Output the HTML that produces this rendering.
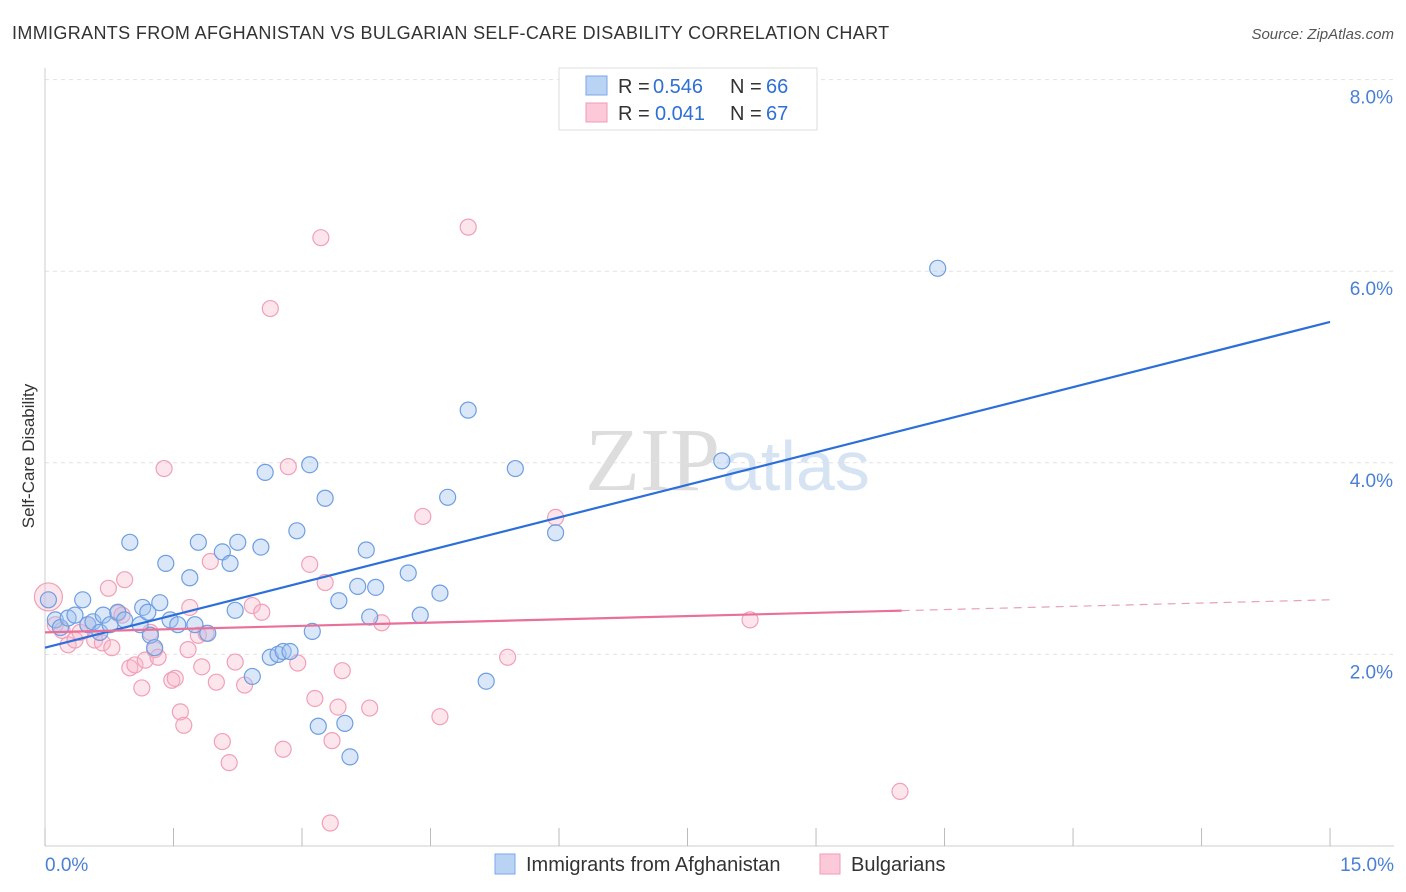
<!DOCTYPE html>
<html><head><meta charset="utf-8"><style>
body{margin:0;background:#fff;font-family:"Liberation Sans",sans-serif}
svg{display:block}
</style></head><body>
<svg id="chart" width="1406" height="892">
<text x="12" y="39" font-size="18" fill="#333" letter-spacing="0.35">IMMIGRANTS FROM AFGHANISTAN VS BULGARIAN SELF-CARE DISABILITY CORRELATION CHART</text>
<text x="1394" y="39" font-size="15" fill="#555" font-style="italic" text-anchor="end">Source: ZipAtlas.com</text>
<text x="34" y="456" font-size="17" fill="#333" text-anchor="middle" transform="rotate(-90 34 456)">Self-Care Disability</text>
<text x="720" y="490" font-size="90" fill="#ddd" text-anchor="end" font-family="Liberation Serif">ZIP</text>
<text x="722" y="490" font-size="70" fill="#d5e3f3">atlas</text>
<g id="grid"></g><g id="pts"></g><g id="lines"></g>
<g>
<rect x="559" y="68" width="258" height="62" fill="#fff" stroke="#ddd"/>
<rect x="586" y="76" width="21" height="19" fill="#b9d3f5" stroke="#7aa7e6"/>
<rect x="586" y="103" width="21" height="19" fill="#fcc9d8" stroke="#f09ab5"/>
<text y="93" font-size="20" fill="#333"><tspan x="618">R =</tspan><tspan x="653" fill="#2f6fd6">0.546</tspan><tspan x="730">N =</tspan><tspan x="766" fill="#2f6fd6">66</tspan></text>
<text y="120" font-size="20" fill="#333"><tspan x="618">R =</tspan><tspan x="655" fill="#2f6fd6">0.041</tspan><tspan x="730">N =</tspan><tspan x="766" fill="#2f6fd6">67</tspan></text>
</g>
<g>
<rect x="495" y="854" width="20" height="20" fill="#b9d3f5" stroke="#7aa7e6"/>
<text x="526" y="871" font-size="20" fill="#333">Immigrants from Afghanistan</text>
<rect x="820" y="854" width="20" height="20" fill="#fcc9d8" stroke="#f09ab5"/>
<text x="851" y="871" font-size="20" fill="#333">Bulgarians</text>
</g>
</svg>
<script>
const blueX=[0.04,0.12,0.18,0.27,0.35,0.44,0.50,0.56,0.64,0.68,0.76,0.85,0.93,0.99,1.11,1.14,1.20,1.23,1.28,1.34,1.41,1.46,1.55,1.69,1.75,1.79,1.90,2.07,2.16,2.22,2.25,2.42,2.52,2.57,2.63,2.72,2.78,2.86,2.94,3.09,3.12,3.19,3.27,3.43,3.50,3.56,3.65,3.75,3.79,3.86,4.24,4.38,4.61,4.70,4.94,5.15,5.49,5.96,7.90,10.42];
const blueY=[2.57,2.36,2.28,2.38,2.41,2.57,2.31,2.34,2.23,2.41,2.31,2.44,2.36,3.17,2.31,2.49,2.44,2.20,2.07,2.54,2.95,2.36,2.31,2.80,2.31,3.17,2.22,3.07,2.95,2.46,3.17,1.77,3.12,3.90,1.97,2.00,2.03,2.03,3.29,3.98,2.24,1.25,3.63,2.56,1.28,0.93,2.71,3.09,2.39,2.70,2.85,2.41,2.64,3.64,4.55,1.72,3.94,3.27,4.02,6.03];
const pinkX=[0.04,0.12,0.20,0.27,0.35,0.41,0.50,0.58,0.67,0.74,0.78,0.85,0.90,0.93,0.99,1.05,1.13,1.17,1.23,1.28,1.32,1.39,1.48,1.52,1.58,1.62,1.69,1.67,1.79,1.83,1.88,1.93,2.00,2.07,2.15,2.22,2.33,2.42,2.53,2.63,2.78,2.84,2.95,3.09,3.15,3.22,3.27,3.33,3.35,3.42,3.47,3.79,3.93,4.41,4.61,4.94,5.40,5.96,8.23,9.98];
const pinkY=[2.60,2.31,2.25,2.10,2.15,2.23,2.31,2.15,2.12,2.69,2.07,2.43,2.41,2.78,1.86,1.89,1.65,1.94,2.23,2.05,1.97,3.94,1.73,1.75,1.40,1.26,2.49,2.05,2.20,1.87,2.22,2.97,1.71,1.09,0.87,1.92,1.68,2.51,2.44,5.61,1.01,3.96,1.91,2.94,1.54,6.35,2.75,0.24,1.10,1.45,1.83,1.44,2.33,3.44,1.35,6.46,1.97,3.43,2.36,0.57];
const yTicks=[2,4,6,8];
const xTicks=[0,1.5,3,4.5,6,7.5,9,10.5,12,13.5,15];
const blueFit=[2.07,5.47];
const pinkFit=[2.23,2.57];
const sx=v=>45+v*85.67, sy=v=>846-v*95.8;
const NS="http://www.w3.org/2000/svg";
function mk(t,a,p){const e=document.createElementNS(NS,t);for(const k in a)e.setAttribute(k,a[k]);p.appendChild(e);return e;}
const grid=document.getElementById('grid');
yTicks.forEach(t=>{
 const l=mk('line',{x1:45,x2:1394,y1:sy(t),y2:sy(t),stroke:'#e2e2e2','stroke-dasharray':'4,4'},grid);
 
 
 const tx=mk('text',{x:1393,y:sy(t)+24,'font-size':19,fill:'#4a7fd6','text-anchor':'end'},grid);tx.textContent=t.toFixed(1)+'%';
 
 
});
mk('line',{x1:45,x2:45,y1:68,y2:846,stroke:'#ccc'},grid);
mk('line',{x1:45,x2:1394,y1:846,y2:846,stroke:'#ccc'},grid);
xTicks.forEach(t=>{const l=mk('line',{x1:sx(t),x2:sx(t),y1:828,y2:846,stroke:'#bbb'},grid);
 
 });
[[0,'0.0%','start',45],[15,'15.0%','end',1394]].forEach(([v,s,a,x])=>{const tx=mk('text',{x:x,y:871,'font-size':19,fill:'#4a7fd6','text-anchor':a},grid);tx.textContent=s;
 
 });
const pts=document.getElementById('pts');
pinkX.forEach((x,i)=>{const c=mk('circle',{cx:sx(x),cy:sy(pinkY[i]),r:i==0?14:8,fill:'rgba(248,180,200,0.35)',stroke:'#f0a0b8','stroke-width':1.2},pts);
 
 });
blueX.forEach((x,i)=>{const c=mk('circle',{cx:sx(x),cy:sy(blueY[i]),r:8,fill:'rgba(160,196,240,0.4)',stroke:'#6f9ee0','stroke-width':1.2},pts);
 
 });
const lines=document.getElementById('lines');
const bl=mk('line',{x1:sx(0),y1:sy(blueFit[0]),x2:sx(15),y2:sy(blueFit[1]),stroke:'#2c6fd8','stroke-width':2.2},lines);


const pm=pinkFit[0]+(pinkFit[1]-pinkFit[0])*10/15;
const pl=mk('line',{x1:sx(0),y1:sy(pinkFit[0]),x2:sx(10),y2:sy(pm),stroke:'#e8709a','stroke-width':2.2},lines);


const pd=mk('line',{x1:sx(10),y1:sy(pm),x2:sx(15),y2:sy(pinkFit[1]),stroke:'#e8a0b8','stroke-width':1.2,'stroke-dasharray':'8,6'},lines);


</script>
</body></html>
